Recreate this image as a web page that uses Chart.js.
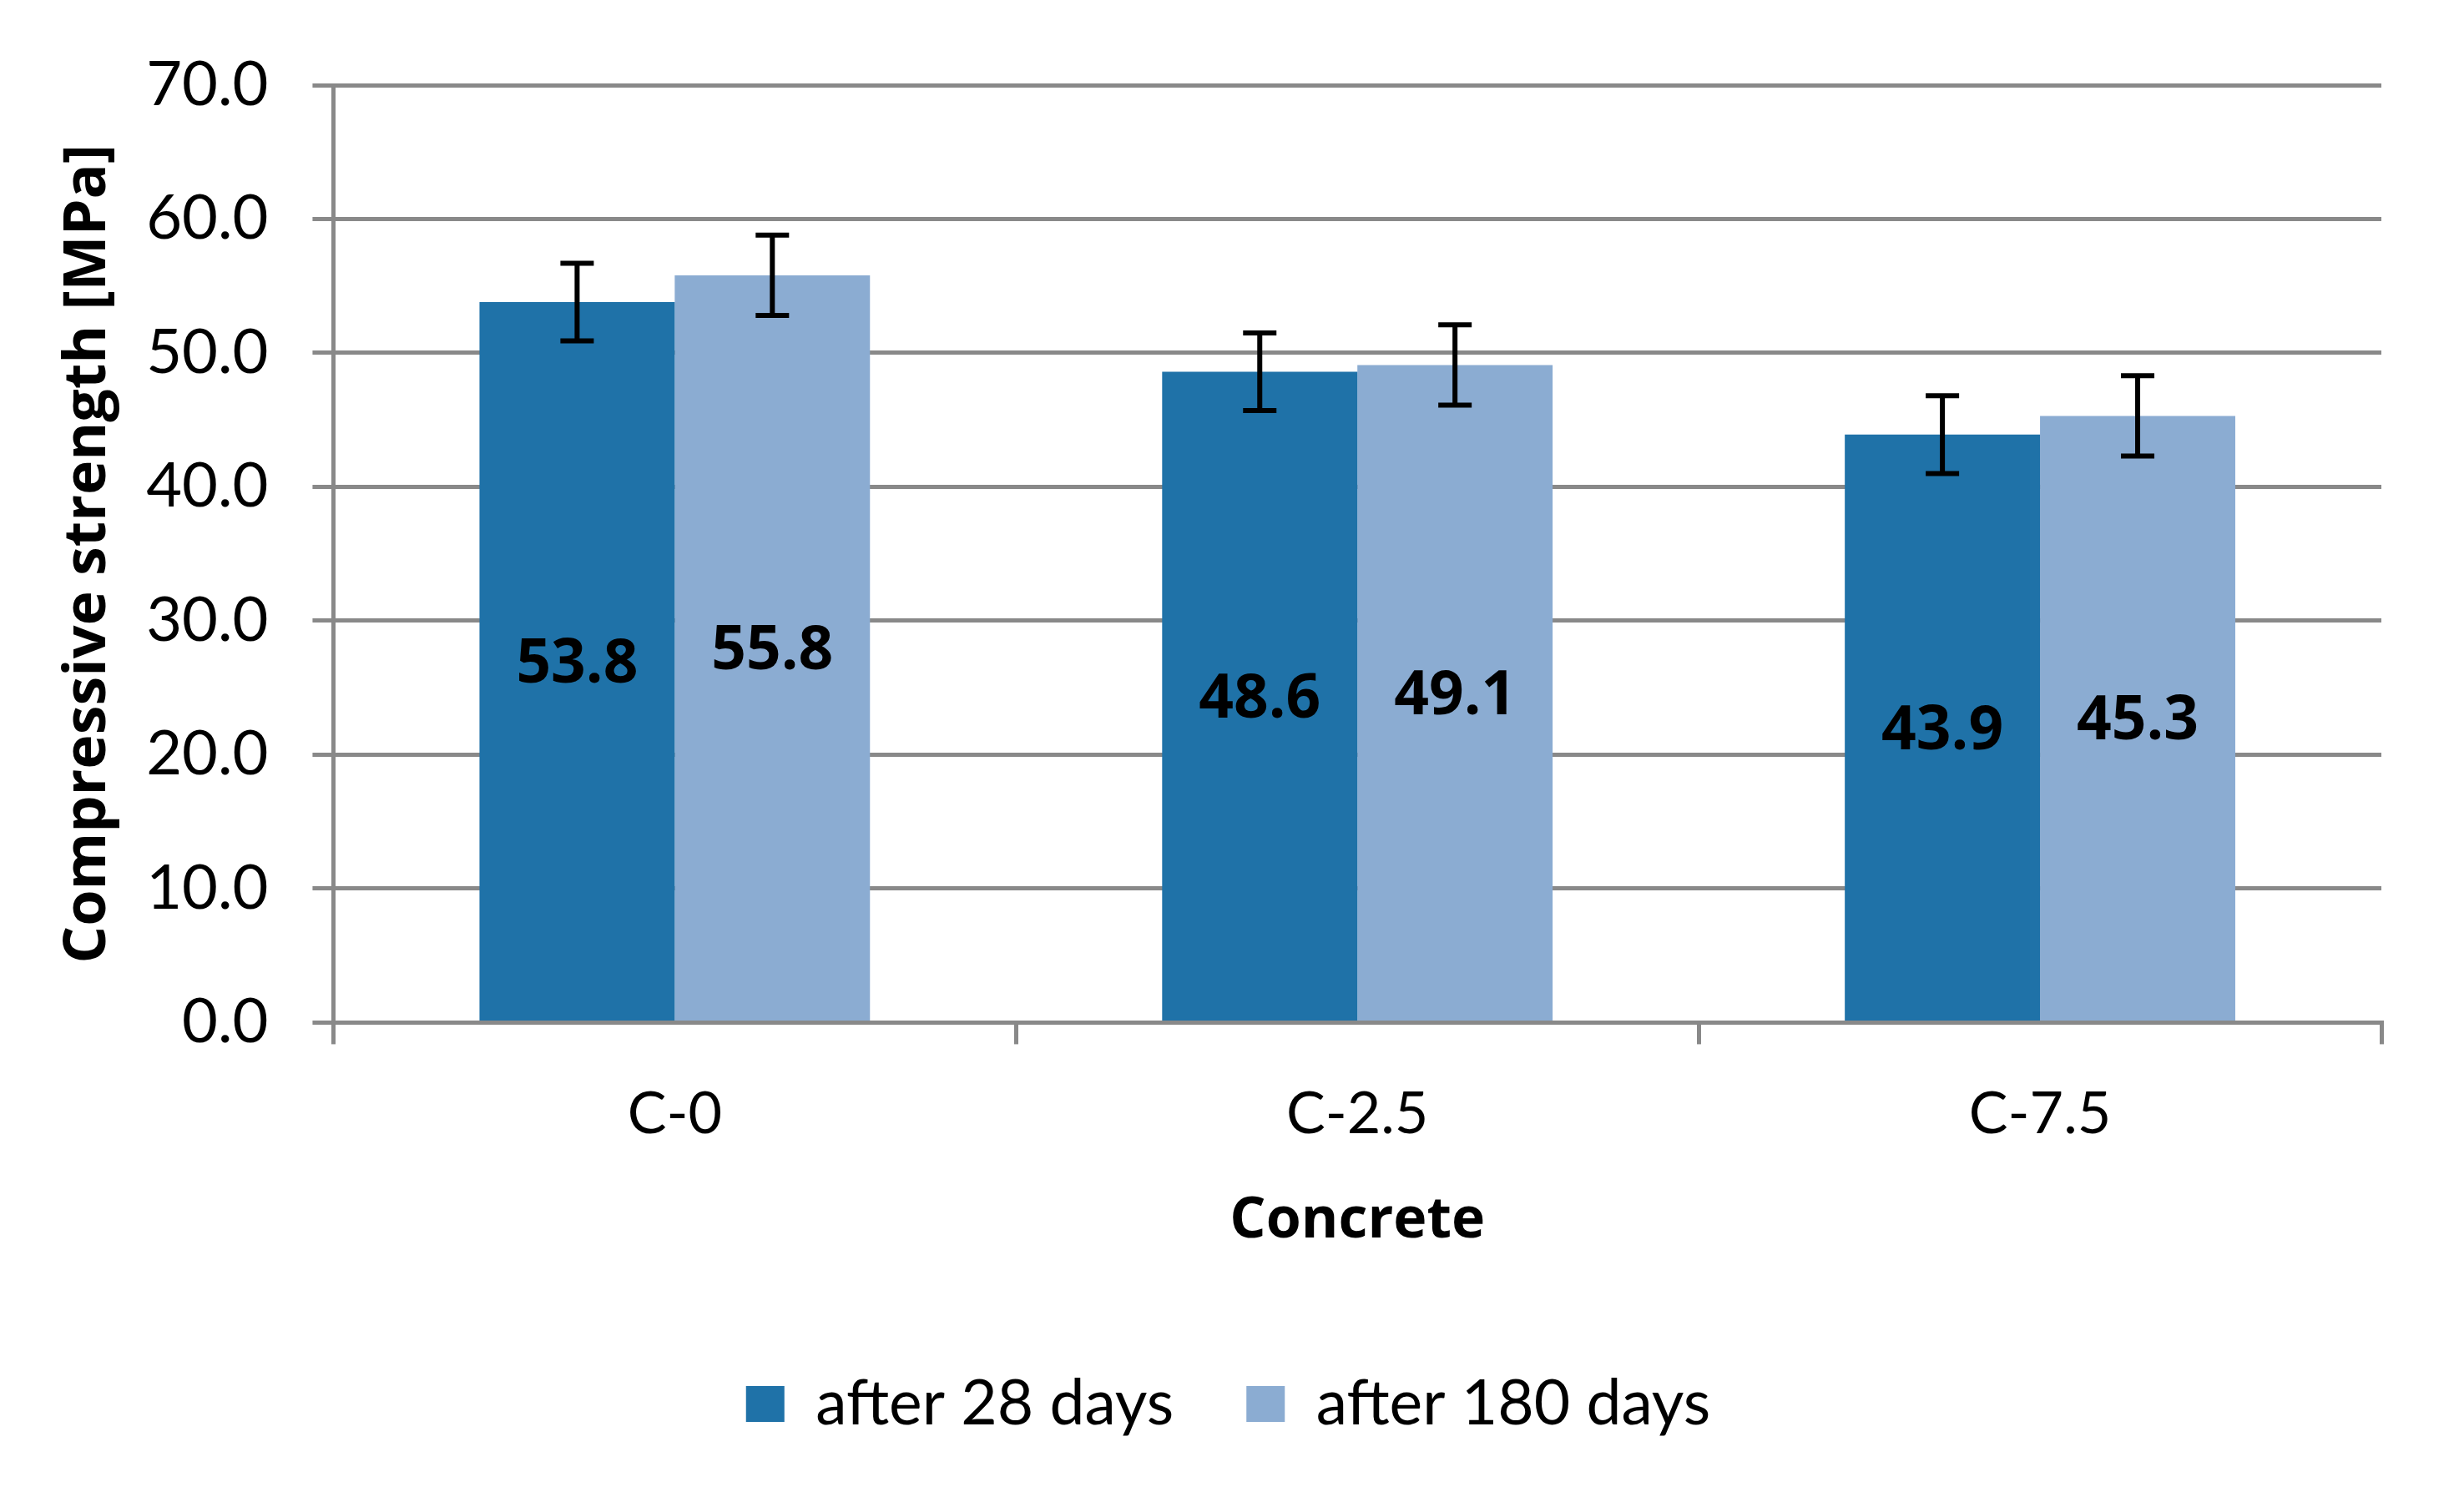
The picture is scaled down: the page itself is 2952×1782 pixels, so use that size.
<!DOCTYPE html>
<html>
<head>
<meta charset="utf-8">
<script src="https://cdn.jsdelivr.net/npm/chart.js@4"></script>
<style>
  body { margin: 0; background: #fff; }
  canvas { display: block; }
</style>
</head>
<body>
<canvas id="myChart" width="2952" height="1782"></canvas>
<script>
const categories = ['C-0', 'C-2.5', 'C-7.5'];
const seriesNames = ['after 28 days', 'after 180 days'];
const strength28 = [53.8, 48.6, 43.9];
const strength180 = [55.8, 49.1, 45.3];
const error28 = [2.9, 2.9, 2.9];
const error180 = [3.0, 3.0, 3.0];
const yTickLabels = ['0.0', '10.0', '20.0', '30.0', '40.0', '50.0', '60.0', '70.0'];

const gridColor = '#898989';

// value labels in the middle of each bar + error bars
const barExtras = {
    id: 'barExtras',
    afterDatasetsDraw(chart) {
        let ctx = chart.ctx;
        let yScale = chart.scales.y;
        chart.data.datasets.forEach((ds, i) => {
            let meta = chart.getDatasetMeta(i);
            meta.data.forEach((bar, j) => {
                ctx.save();
                ctx.fillStyle = '#000';
                ctx.font = 'bold 73px "Open Sans"';
                ctx.textAlign = 'center';
                ctx.textBaseline = 'middle';
                ctx.fillText(ds.data[j].toFixed(1), bar.x, (bar.y + bar.base) / 2 + 5);

                let top = yScale.getPixelForValue(ds.data[j] + ds.errors[j]);
                let bottom = yScale.getPixelForValue(ds.data[j] - ds.errors[j]);
                ctx.strokeStyle = '#000';
                ctx.lineWidth = 6;
                ctx.beginPath();
                ctx.moveTo(bar.x, top);
                ctx.lineTo(bar.x, bottom);
                ctx.moveTo(bar.x - 20, top);
                ctx.lineTo(bar.x + 20, top);
                ctx.moveTo(bar.x - 20, bottom);
                ctx.lineTo(bar.x + 20, bottom);
                ctx.stroke();
                ctx.restore();
            });
        });
    }
};

let data = {
    labels: categories,
    datasets: [{
        label: seriesNames[0],
        data: strength28,
        errors: error28,
        backgroundColor: '#1F72A8',
    }, {
        label: seriesNames[1],
        data: strength180,
        errors: error180,
        backgroundColor: '#8BACD2',
    }]
};

let ctx = document.getElementById('myChart');

new Chart(ctx, {
    type: 'bar',
    data: data,
    plugins: [barExtras],
    options: {
        responsive: false,
        devicePixelRatio: 1,
        animation: false,
        categoryPercentage: 0.572,
        barPercentage: 1.0,
        layout: {
            padding: { left: 90, right: 99, top: 102, bottom: 52 }
        },
        plugins: {
            tooltip: { enabled: false },
            legend: {
                position: 'bottom',
                labels: {
                    color: '#000',
                    boxWidth: 46,
                    boxHeight: 43,
                    padding: 87,
                    font: { family: 'Lato', size: 75 }
                }
            }
        },
        scales: {
            x: {
                grid: {
                    drawOnChartArea: false,
                    color: gridColor,
                    lineWidth: 5,
                    tickLength: 26
                },
                border: { color: gridColor, width: 5 },
                ticks: {
                    color: '#000',
                    padding: 42,
                    font: { family: 'Lato', size: 70 }
                },
                title: {
                    display: true,
                    text: 'Concrete',
                    color: '#000',
                    padding: { top: 3, bottom: 54 },
                    font: { family: 'Open Sans', size: 68, weight: 'bold' }
                }
            },
            y: {
                min: 0,
                max: 70,
                grid: {
                    color: gridColor,
                    lineWidth: 5,
                    tickLength: 25
                },
                border: { color: gridColor, width: 5 },
                ticks: {
                    stepSize: 10,
                    color: '#000',
                    padding: 53,
                    font: { family: 'Lato', size: 74 },
                    callback: (value) => yTickLabels[value / 10]
                },
                title: {
                    display: true,
                    text: 'Compressive strength [MPa]',
                    color: '#000',
                    padding: { top: 0, bottom: 0 },
                    font: { family: 'Open Sans', size: 70, weight: 'bold', lineHeight: 0.46 }
                }
            }
        }
    }
});
</script>
</body>
</html>
